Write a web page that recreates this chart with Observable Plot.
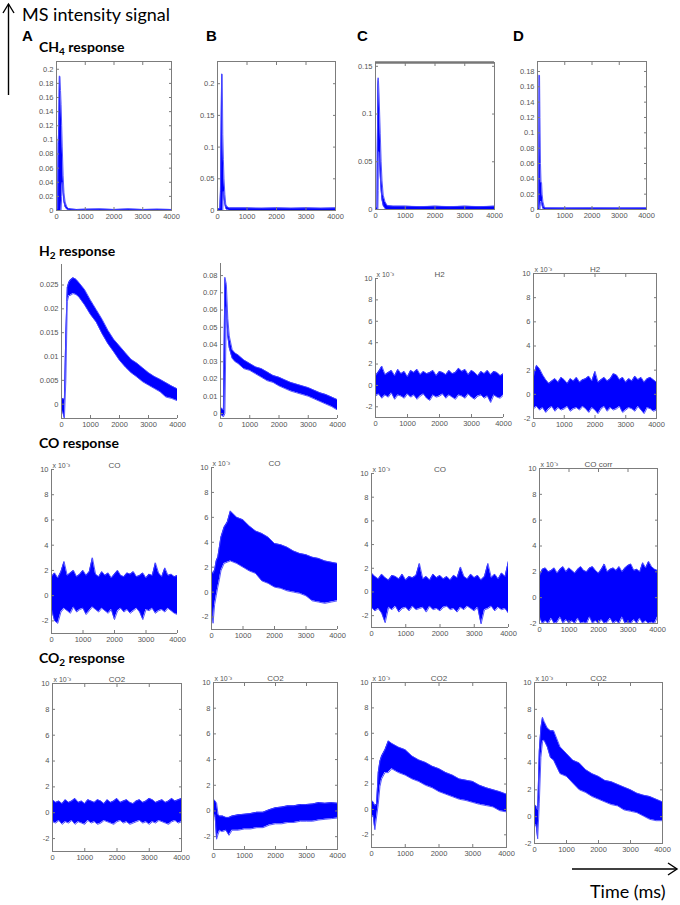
<!DOCTYPE html>
<html><head><meta charset="utf-8">
<script src="https://cdn.jsdelivr.net/npm/d3@7"></script>
<script src="https://cdn.jsdelivr.net/npm/@observablehq/plot@0.6"></script>
<style>
body{margin:0;background:#fff}
#wrap{position:relative;width:680px;height:905px;overflow:hidden;background:#fff}
#ov{position:absolute;left:0;top:0;pointer-events:none}
</style></head><body><div id="wrap"></div>
<script>
// ---------- tick labels ----------
const xTicks = [0,1000,2000,3000,4000];
const yt_A1 = [0,0.02,0.04,0.06,0.08,0.1,0.12,0.14,0.16,0.18,0.2];
const yt_B1 = [0,0.05,0.1,0.15,0.2];
const yt_C1 = [0,0.05,0.1,0.15];
const yt_D1 = [0,0.02,0.04,0.06,0.08,0.1,0.12,0.14,0.16,0.18];
const yt_A2 = [0,0.005,0.01,0.015,0.02,0.025];
const yt_B2 = [0,0.01,0.02,0.03,0.04,0.05,0.06,0.07,0.08];
const yt_e3 = [-2,0,2,4,6,8,10];

// ---------- time grids (ms) ----------
const T_grid = [0,50,100,150,200,250,300,400,500,600,800,1000,1200,1400,1600,1800,2000,2200,2400,2600,2800,3000,3200,3400,3600,3800,4000];
const T_fine = [0,100,200,300,400,500,600,700,800,900,1000,1100,1200,1300,1400,1500,1600,1700,1800,1900,2000,2100,2200,2300,2400,2500,2600,2700,2800,2900,3000,3100,3200,3300,3400,3500,3600,3700,3800,3900,4000];

// ---------- CH4 response (row 1) : signal envelope (low / high) ----------
const A1_t  = [0,40,60,80,100,120,140,160,180,200,230,260,300,350,400,500,700,1000,1500,2000,2500,3000,3500,4000];
const A1_hi = [0.0015,0.002,0.095,0.12,0.19,0.19,0.17,0.15,0.12,0.09,0.05,0.025,0.012,0.006,0.003,0.002,0.0015,0.0018,0.002,0.0015,0.002,0.0015,0.0018,0.0015];
const A1_lo = [0,0,0,0,0,0,0,0,0.02,0.04,0.025,0.012,0.005,0.002,0.0005,0,0,0,0,0,0,0,0,0];

const B1_t  = [0,80,100,120,140,160,180,200,220,250,280,320,400,600,1000,1500,2000,2500,3000,3500,4000];
const B1_hi = [0.002,0.003,0.03,0.12,0.215,0.215,0.12,0.08,0.05,0.025,0.01,0.006,0.004,0.004,0.004,0.0035,0.004,0.0035,0.004,0.0035,0.004];
const B1_lo = [0,0,0,0,0,0,0,0.03,0.02,0.01,0.003,0.001,0,0,0,0,0,0,0,0,0];

const C1_t  = [0,50,60,80,90,100,120,140,160,190,220,260,320,400,600,1000,1500,2000,2500,3000,3500,4000];
const C1_hi = [0.002,0.002,0.06,0.13,0.138,0.135,0.12,0.1,0.08,0.05,0.03,0.015,0.008,0.004,0.0035,0.0035,0.003,0.0035,0.003,0.0035,0.003,0.0035];
const C1_lo = [-0.001,-0.001,0,0,0.02,0.06,0.06,0.05,0.035,0.02,0.01,0.004,0.001,-0.0015,-0.0015,-0.0015,-0.0015,-0.0015,-0.0015,-0.0015,-0.0015,-0.0015];

const D1_t  = [0,40,50,60,75,90,110,130,150,170,200,250,300,500,1000,2000,3000,4000];
const D1_hi = [0.002,0.002,0.05,0.175,0.175,0.12,0.06,0.035,0.035,0.02,0.01,0.003,0.002,0.002,0.0018,0.002,0.0018,0.002];
const D1_lo = [0,0,0,0,0,0,0.01,0.01,0.01,0.005,0.001,0,0,0,0,0,0,0];

// ---------- H2 response (row 2) ----------
const A2_hi = [0.001,0.0012,0.001,0.015,0.0245,0.0255,0.026,0.0265,0.0262,0.0255,0.024,0.0218,0.0198,0.0178,0.0155,0.0136,0.0122,0.0108,0.0094,0.0086,0.0076,0.0066,0.0058,0.0052,0.0045,0.0038,0.0032];
const A2_lo = [-0.0012,-0.0018,-0.003,0.005,0.0215,0.0228,0.0228,0.0232,0.023,0.0225,0.0208,0.0188,0.0172,0.0148,0.0127,0.011,0.0092,0.0078,0.0066,0.0057,0.0047,0.004,0.0033,0.0026,0.0015,0.0012,0.0007];

const B2_hi = [0.003,0.003,0.002,0.079,0.075,0.055,0.045,0.037,0.035,0.034,0.031,0.029,0.027,0.026,0.024,0.022,0.021,0.0195,0.018,0.017,0.016,0.015,0.0135,0.012,0.011,0.0095,0.008];
const B2_lo = [-0.001,-0.001,-0.002,0.0,0.062,0.045,0.038,0.032,0.030,0.029,0.026,0.025,0.023,0.021,0.019,0.018,0.016,0.0145,0.013,0.012,0.011,0.010,0.0085,0.007,0.0055,0.004,0.002];

// values below in units of 1e-3
const C2_hi = [0.9,1.3,1.8,1.0,1.2,1.4,0.9,1.5,1.1,1.3, 0.8,1.4,1.2,1.5,1.0,1.3,1.1,1.2,1.4,0.9, 1.3,1.2,1.0,1.4,1.1,1.2,1.6,1.3,1.5,1.0, 1.4,1.2,0.9,1.3,1.1,1.4,1.0,1.3,1.2,0.9, 1.1];
const C2_lo = [-1.0,-0.8,-1.2,-0.9,-1.1,-0.7,-1.3,-0.9,-1.0,-1.2, -0.8,-1.1,-0.9,-1.3,-1.0,-0.8,-1.2,-1.4,-0.9,-1.1, -1.0,-0.8,-1.2,-0.9,-1.1,-1.3,-0.9,-1.0,-1.2,-0.8, -1.1,-1.3,-1.0,-0.9,-1.2,-1.0,-1.6,-0.9,-1.1,-1.2, -0.9];

const D2_hi = [1.5,2.4,2.1,1.6,1.2,0.9,1.1,1.3,1.0,1.4, 1.2,0.9,1.3,1.1,1.4,1.0,1.2,1.3,1.5,1.1, 1.9,1.0,1.2,1.4,1.1,1.3,1.7,1.6,1.2,1.4, 1.0,1.3,1.1,1.5,1.2,1.4,1.0,1.3,1.4,1.2, 1.0];
const D2_lo = [-1.2,-1.0,-1.3,-1.1,-1.5,-1.2,-1.0,-1.4,-1.1,-1.3, -1.2,-1.0,-1.4,-1.2,-1.1,-1.3,-1.0,-1.2,-1.5,-1.1, -1.3,-1.6,-1.2,-1.0,-1.4,-1.1,-1.3,-1.2,-1.0,-1.5, -1.3,-1.1,-1.2,-1.4,-1.0,-1.3,-1.6,-1.1,-1.2,-1.4, -1.3];

// ---------- CO response (row 3) ----------
const A3_hi = [1.5,1.8,1.4,1.9,2.7,1.6,1.8,2.0,1.5,1.7, 2.0,1.6,1.9,3.0,1.7,1.5,1.9,1.6,1.8,1.4, 1.7,2.0,1.6,1.5,1.8,1.7,1.9,1.5,1.6,1.8, 1.4,1.7,1.6,2.6,1.8,1.5,2.2,1.6,1.7,1.5, 1.6];
const A3_lo = [-1.1,-2.0,-2.2,-1.3,-1.0,-1.2,-1.4,-0.9,-1.3,-1.1, -1.0,-1.5,-1.2,-0.9,-1.1,-1.3,-1.0,-1.2,-1.4,-1.1, -1.9,-1.2,-1.0,-1.3,-1.1,-1.4,-1.2,-1.0,-1.3,-1.9, -1.1,-1.2,-1.0,-1.4,-1.2,-1.1,-1.3,-1.0,-1.2,-1.4, -1.5];

const B3_hi = [1.7,1.5,1.8,2.5,2.8,3.6,4.4,5.2,5.6,6.5,6.0,5.8,5.3,4.9,4.7,4.4,3.9,3.8,3.6,3.3,3.1,3.0,2.8,2.7,2.5,2.4,2.3];
const B3_lo = [-1.2,-2.5,-1.0,-0.3,0.4,1.0,1.7,2.3,2.4,2.5,2.3,2.0,1.7,1.5,0.9,0.7,0.4,0.3,0.1,0.0,-0.1,-0.3,-0.7,-0.8,-0.9,-0.8,-0.7];

const C3_hi = [1.6,1.3,1.1,1.5,1.2,1.0,1.4,1.3,1.1,1.5, 1.0,1.3,1.2,1.4,2.4,1.1,1.3,1.0,1.5,1.2, 1.4,1.1,1.3,1.0,1.4,1.2,2.1,1.3,1.1,1.5, 1.2,1.4,1.0,1.3,2.4,1.2,1.5,1.1,1.6,1.3, 2.6];
const C3_lo = [-1.3,-1.6,-1.4,-1.8,-2.6,-1.3,-1.5,-1.2,-1.7,-1.4, -1.3,-1.6,-1.2,-1.5,-1.4,-1.3,-1.7,-1.2,-1.5,-1.4, -1.6,-1.3,-1.2,-1.5,-1.4,-1.7,-1.3,-1.5,-1.2,-1.4, -1.6,-1.3,-2.7,-1.5,-1.4,-1.2,-1.6,-1.3,-1.5,-1.4, -1.8];

const D3_hi = [1.7,2.2,2.3,2.0,2.1,2.3,1.9,2.2,2.4,2.0, 2.3,2.1,1.9,2.2,2.4,2.1,2.0,2.3,2.4,2.1, 1.9,2.2,2.6,2.0,2.2,2.3,2.1,2.4,2.0,2.3, 2.5,2.6,2.1,2.2,2.0,2.7,2.3,2.8,2.4,2.2, 2.1];
const D3_lo = [-1.5,-2.0,-1.8,-2.0,-1.6,-2.0,-1.9,-1.5,-2.0,-1.7, -2.0,-1.8,-2.0,-1.6,-2.0,-1.9,-2.0,-1.5,-2.0,-1.8, -2.0,-1.7,-2.0,-1.9,-1.6,-2.0,-1.8,-2.0,-1.5,-2.0, -1.9,-2.0,-1.7,-2.0,-1.6,-2.0,-1.8,-2.0,-1.9,-2.0, -1.5];

// ---------- CO2 response (row 4) ----------
const A4_hi = [1.0,0.8,0.9,0.7,1.0,0.8,0.9,1.1,0.8,0.9, 0.7,1.0,0.9,0.8,1.0,0.9,0.7,1.0,0.8,0.9, 1.1,0.8,0.9,1.0,0.8,0.7,0.9,1.0,0.8,0.9, 1.1,1.0,0.8,0.9,1.0,0.8,0.9,1.1,0.9,1.0, 1.1];
const A4_lo = [-0.7,-0.8,-0.6,-0.9,-0.7,-0.8,-0.6,-0.9,-0.7,-0.8, -0.9,-0.6,-0.8,-0.7,-0.9,-0.8,-0.6,-0.7,-0.8,-0.9, -0.7,-0.6,-0.8,-0.7,-0.9,-0.8,-0.7,-0.6,-0.8,-0.7, -0.9,-0.7,-0.8,-0.6,-0.7,-0.8,-0.9,-0.7,-0.6,-0.8, -0.7];

const B4_hi = [0.9,0.8,0.6,-0.3,-0.4,-0.4,-0.4,-0.5,-0.5,-0.4,-0.3,-0.25,-0.2,-0.1,-0.1,0.1,0.25,0.3,0.4,0.4,0.5,0.5,0.55,0.65,0.6,0.65,0.6];
const B4_lo = [-0.5,-0.3,-2.2,-1.8,-1.5,-1.6,-1.6,-1.5,-1.9,-1.5,-1.5,-1.4,-1.4,-1.3,-1.3,-1.1,-1.0,-1.0,-0.9,-0.9,-0.8,-0.8,-0.8,-0.7,-0.65,-0.6,-0.55];

const C4_hi = [0.7,0.6,0.3,0.4,2.9,3.8,4.2,4.7,5.4,5.2,4.9,4.7,4.2,3.9,3.7,3.4,3.2,2.9,2.7,2.4,2.3,2.2,1.9,1.7,1.55,1.4,1.2];
const C4_lo = [-0.6,-0.5,-1.6,-0.6,0.4,1.8,2.4,2.9,2.9,3.2,2.9,2.7,2.4,2.2,1.9,1.7,1.4,1.2,1.0,0.8,0.7,0.55,0.4,0.3,0.2,-0.1,-0.2];

const D4_hi = [0.9,0.8,0.5,4.9,6.6,7.4,7.1,6.6,6.4,6.4,5.2,4.7,4.2,4.0,3.5,3.2,3.0,2.7,2.6,2.4,2.2,2.0,1.75,1.6,1.5,1.3,1.1];
const D4_lo = [-0.7,-0.6,-1.65,1.0,4.4,5.6,5.7,5.2,4.4,4.2,3.2,3.0,2.5,2.0,1.8,1.5,1.3,1.1,0.9,0.8,0.5,0.4,0.3,0.05,-0.2,-0.3,-0.3];

// ---------- panel layout ----------
const panels = [
  {L:56, R:171,T:61, B:210,dom:[0,0.211],  yt:yt_A1,t:A1_t,hi:A1_hi,lo:A1_lo,box:true},
  {L:217,R:335,T:61, B:210,dom:[0,0.235],  yt:yt_B1,t:B1_t,hi:B1_hi,lo:B1_lo,box:true},
  {L:375,R:494,T:62, B:209,dom:[0,0.154],  yt:yt_C1,t:C1_t,hi:C1_hi,lo:C1_lo,box:true,darkTop:true},
  {L:537,R:646,T:61, B:209,dom:[0,0.193],  yt:yt_D1,t:D1_t,hi:D1_hi,lo:D1_lo,box:true},

  {L:61, R:177,T:264,B:418,dom:[-0.003,0.0293],yt:yt_A2,t:T_grid,hi:A2_hi,lo:A2_lo},
  {L:220,R:337,T:263,B:418,dom:[-0.0029,0.087],yt:yt_B2,t:T_grid,hi:B2_hi,lo:B2_lo},
  {L:375,R:503,T:278,B:417,dom:[-3,10],yt:yt_e3,t:T_fine,hi:C2_hi,lo:C2_lo,title:"H2",exp:true},
  {L:533,R:656,T:273,B:418,dom:[-2,10],yt:yt_e3,t:T_fine,hi:D2_hi,lo:D2_lo,title:"H2",exp:true,box:true},

  {L:51, R:177,T:469,B:633,dom:[-3,10],yt:yt_e3,t:T_fine,hi:A3_hi,lo:A3_lo,title:"CO",exp:true},
  {L:211,R:337,T:467,B:629,dom:[-3,10],yt:yt_e3,t:T_grid,hi:B3_hi,lo:B3_lo,title:"CO",exp:true},
  {L:371,R:508,T:473,B:627,dom:[-3,10],yt:yt_e3,t:T_fine,hi:C3_hi,lo:C3_lo,title:"CO",exp:true},
  {L:539,R:657,T:468,B:623,dom:[-2,10],yt:yt_e3,t:T_fine,hi:D3_hi,lo:D3_lo,title:"CO corr",exp:true,box:true},

  {L:52, R:181,T:683,B:851,dom:[-3,10],yt:yt_e3,t:T_fine,hi:A4_hi,lo:A4_lo,title:"CO2",exp:true,box:true},
  {L:213,R:337,T:682,B:849,dom:[-3,10],yt:yt_e3,t:T_grid,hi:B4_hi,lo:B4_lo,title:"CO2",exp:true,box:true},
  {L:371,R:506,T:682,B:847,dom:[-3,10],yt:yt_e3,t:T_grid,hi:C4_hi,lo:C4_lo,title:"CO2",exp:true,box:true},
  {L:534,R:662,T:682,B:843,dom:[-2,10],yt:yt_e3,t:T_grid,hi:D4_hi,lo:D4_lo,title:"CO2",exp:true,box:true}
];

const wrap = document.getElementById("wrap");
const mL = 30, mR = 6, mT = 16, mB = 16;
const axisCol = "#7c7c7c", textCol = "#555";

for (const p of panels) {
  const rows = p.t.map((t, i) => ({t, lo: p.lo[i], hi: p.hi[i]}));
  const marks = [
    Plot.areaY(rows, {x: "t", y1: "lo", y2: "hi", fill: "#0000ff", clip: true}),
    Plot.lineY(rows, {x: "t", y: "hi", stroke: "#4646ff", strokeWidth: 0.9, clip: true}),
    Plot.lineY(rows, {x: "t", y: "lo", stroke: "#4646ff", strokeWidth: 0.9, clip: true})
  ];
  if (p.box) {
    marks.push(Plot.frame({stroke: axisCol}));
    marks.push(Plot.axisX({anchor: "top", ticks: xTicks, tickSize: -3, tickFormat: () => "", label: null, stroke: axisCol}));
    marks.push(Plot.axisY({anchor: "right", ticks: p.yt, tickSize: -3, tickFormat: () => "", label: null, stroke: axisCol}));
  } else {
    marks.push(Plot.ruleX([0], {stroke: axisCol}));
    marks.push(Plot.ruleY([p.dom[0]], {stroke: axisCol}));
  }
  if (p.darkTop) marks.push(Plot.ruleY([p.dom[1]], {stroke: "#777", strokeWidth: 2.5}));
  marks.push(Plot.axisX({anchor: "bottom", ticks: xTicks, tickSize: -3, tickPadding: 6, tickFormat: d => String(d), label: null, fontSize: 7.5, stroke: axisCol, fill: textCol}));
  marks.push(Plot.axisY({anchor: "left", ticks: p.yt, tickSize: -3, tickPadding: 6, tickFormat: d => String(d), label: null, fontSize: 7.5, stroke: axisCol, fill: textCol}));
  if (p.title) marks.push(Plot.text([p.title], {text: d => d, frameAnchor: "top", dy: -7, fontSize: 8, fill: textCol}));
  if (p.exp) marks.push(Plot.text(["x 10\u207B\u00B3"], {text: d => d, frameAnchor: "top-left", dx: 1, dy: -6, textAnchor: "start", fontSize: 7, fill: textCol}));

  const w = p.R - p.L, h = p.B - p.T;
  const svg = Plot.plot({
    width: w + mL + mR, height: h + mT + mB,
    marginLeft: mL, marginRight: mR, marginTop: mT, marginBottom: mB,
    x: {domain: [0, 4000], label: null},
    y: {domain: p.dom, label: null},
    style: {fontFamily: "'Liberation Sans', Arial, sans-serif", fontSize: "7.5px", color: textCol, background: "transparent", overflow: "visible"},
    marks
  });
  svg.style.position = "absolute";
  svg.style.left = (p.L - mL) + "px";
  svg.style.top = (p.T - mT) + "px";
  wrap.appendChild(svg);
}

// ---------- annotations ----------
const ns = "http://www.w3.org/2000/svg";
const ov = document.createElementNS(ns, "svg");
ov.setAttribute("id", "ov");
ov.setAttribute("width", 680);
ov.setAttribute("height", 905);
ov.innerHTML = `
  <g stroke="#000" stroke-width="1.4" fill="none">
    <line x1="8.5" y1="95" x2="8.5" y2="4"/>
    <polyline points="3,13 8.5,4 14,13"/>
    <line x1="572" y1="869" x2="677" y2="869"/>
    <polyline points="668,863 677,869 668,875"/>
  </g>
  <g font-family="Lato, 'Open Sans', sans-serif" fill="#000">
    <text x="22" y="21" font-size="18">MS intensity signal</text>
    <text x="590" y="898" font-size="18">Time (ms)</text>
    <text x="39" y="52" font-size="14" font-weight="bold">CH<tspan font-size="10" dy="3">4</tspan><tspan dy="-3"> response</tspan></text>
    <text x="39" y="256" font-size="14" font-weight="bold">H<tspan font-size="10" dy="3">2</tspan><tspan dy="-3"> response</tspan></text>
    <text x="39" y="448" font-size="14" font-weight="bold">CO response</text>
    <text x="39" y="663" font-size="14" font-weight="bold">CO<tspan font-size="10" dy="3">2</tspan><tspan dy="-3"> response</tspan></text>
  </g>
  <g font-family="'Liberation Sans', Arial, sans-serif" font-weight="bold" font-size="15" fill="#000">
    <text x="22" y="41">A</text>
    <text x="206" y="41">B</text>
    <text x="357" y="41">C</text>
    <text x="513" y="41">D</text>
  </g>`;
wrap.appendChild(ov);
</script></body></html>
